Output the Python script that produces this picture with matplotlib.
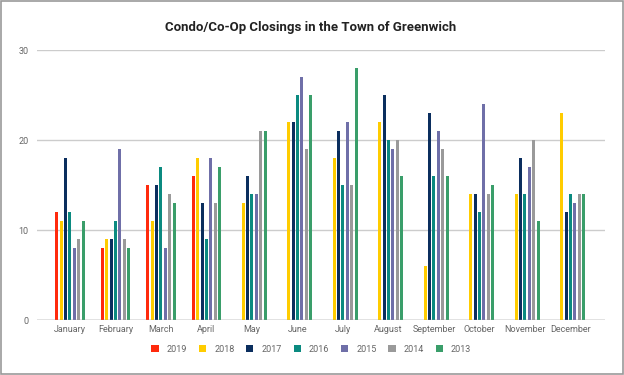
import numpy as np
import matplotlib.pyplot as plt
from matplotlib.patches import Rectangle

plt.rcParams['font.family'] = ['Roboto', 'DejaVu Sans']

months = ["January", "February", "March", "April", "May", "June", "July",
          "August", "September", "October", "November", "December"]
years = ["2019", "2018", "2017", "2016", "2015", "2014", "2013"]
nan = np.nan
v2019 = [12, 8, 15, 16, nan, nan, nan, nan, nan, nan, nan, nan]
v2018 = [11, 9, 11, 18, 13, 22, 18, 22, 6, 14, 14, 23]
v2017 = [18, 9, 15, 13, 16, 22, 21, 25, 23, 14, 18, 12]
v2016 = [12, 11, 17, 9, 14, 25, 15, 20, 16, 12, 14, 14]
v2015 = [8, 19, 8, 18, 14, 27, 22, 19, 21, 24, 17, 13]
v2014 = [9, 9, 14, 13, 21, 19, 15, 20, 19, 14, 20, 14]
v2013 = [11, 8, 13, 17, 21, 25, 28, 16, 16, 15, 11, 14]
series = [v2019, v2018, v2017, v2016, v2015, v2014, v2013]
colors = ["#ff2a0d", "#ffcc00", "#0b2e5e", "#0b8a80", "#6f6fa8", "#9a9a9a", "#3a9e6a"]

fig = plt.figure(figsize=(6.24, 3.75), dpi=100)
ax = fig.add_axes([37 / 624, 1 - 320 / 375, (605 - 37) / 624, 270 / 375])

x = np.arange(len(months))
step = 0.097
for i, (vals, c, yr) in enumerate(zip(series, colors, years)):
    ax.bar(x + (i - 3) * step, vals, width=0.066, color=c, label=yr, zorder=3)

ax.set_xlim(-0.725, 11.76)
ax.set_ylim(0, 30)
ax.set_yticks([0, 10, 20, 30])
ax.yaxis.grid(True, color="#cccccc", linewidth=1, zorder=0)
ax.axhline(0, color="#999999", linewidth=1, zorder=4)
for s in ax.spines.values():
    s.set_visible(False)
ax.tick_params(axis="both", length=0, labelsize=6.5, colors="#666666")
ax.tick_params(axis="y", pad=6)
ax.set_xticks(x)
ax.set_xticklabels(months)

fig.text(311 / 624, 1 - 27 / 375, "Condo/Co-Op Closings in the Town of Greenwich",
         ha="center", va="center", fontsize=9.5, fontweight="bold", color="#222222")

ax.legend(loc="center", bbox_to_anchor=(0.483, -0.108), ncol=7, frameon=False,
          fontsize=6.5, handlelength=0.8, handleheight=0.8, columnspacing=1.3,
          handletextpad=0.9, labelcolor="#666666", bbox_transform=ax.transAxes)

fig.patches.append(Rectangle((0.001, 0.002), 0.997, 0.995, transform=fig.transFigure,
                             fill=False, edgecolor="#999999", linewidth=1.2))

plt.savefig("out.png", dpi=100)
